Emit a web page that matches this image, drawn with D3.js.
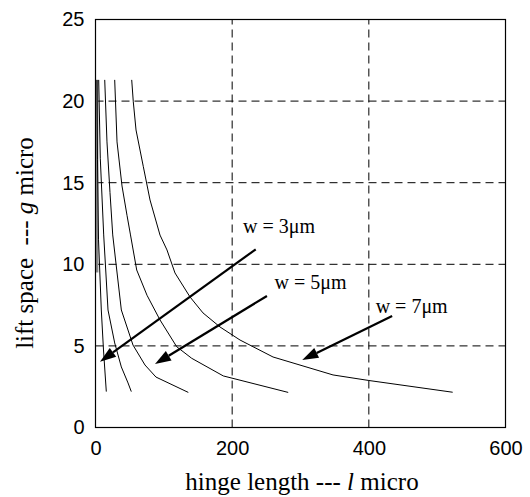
<!DOCTYPE html>
<html>
<head>
<meta charset="utf-8">
<script src="https://cdn.jsdelivr.net/npm/d3@7"></script>
<style>
html,body{margin:0;padding:0;background:#fff;}
svg{display:block;}
</style>
</head>
<body>
<svg id="chart" width="530" height="497"></svg>
<script>
// ---- data ----
const xTicks = [0, 200, 400, 600];
const yTicks = [0, 5, 10, 15, 20, 25];
const xGrid = [200, 400];
const yGrid = [5, 10, 15, 20];

const curve0 = [[2.0,21.3],[2.0,9.5]];
const curveA = [[2.2,21.3],[2.9,16.4],[4.4,11.5],[8.5,7.2],[11.7,4.75],[15.8,2.2]];
const curveB = [[4.7,21.3],[7.0,16.5],[12.0,11.8],[18.3,7.2],[28.1,5.18],[37.8,3.71],[47.6,2.73],[52.4,2.2]];
const curveC = [[13.5,21.3],[16.8,17.5],[21.2,14.4],[25.2,11.8],[37.8,7.2],[54.9,5.05],[72.4,3.83],[88.5,3.09],[135.8,2.15]];
const curveD = [[28.1,21.3],[31.5,17.5],[38.8,14.8],[46.1,13.0],[51.2,11.8],[60.3,9.65],[75.4,8.1],[94.4,6.59],[118.8,4.95],[140.8,4.24],[187,3.16],[282,2.15]];
const curveE = [[53.0,21.3],[55.3,19.96],[59.3,18.23],[70.0,15.98],[79.8,13.94],[94.4,11.79],[104.6,10.88],[116.3,9.47],[138.3,8.0],[157.3,7.02],[182.2,6.16],[211.5,5.36],[259.8,4.32],[347.6,3.22],[400,2.88],[522.7,2.16]];
const curves = [curveA, curveB, curveC, curveD, curveE];

const labels = ["w = 3\u03bcm", "w = 5\u03bcm", "w = 7\u03bcm"];
const labelPos = [[216, 11.9], [262, 8.5], [410, 7.0]];
const arrowTail = [[234.5, 10.92], [250.9, 8.06], [434.1, 6.83]];
const arrowTip = [[6.6, 4.03], [87.1, 3.89], [302.6, 4.14]];

// ---- layout ----
const svg = d3.select("#chart");
const x = d3.scaleLinear().domain([0, 600]).range([95.5, 505.5]);
const y = d3.scaleLinear().domain([0, 25]).range([427.5, 19.5]);

// grid
svg.append("g").selectAll("line").data(xGrid).join("line")
  .attr("x1", d => x(d)).attr("x2", d => x(d))
  .attr("y1", y(0)).attr("y2", y(25))
  .attr("stroke", "#000").attr("stroke-width", 1).attr("stroke-dasharray", "8,5");
svg.append("g").selectAll("line").data(yGrid).join("line")
  .attr("y1", d => y(d)).attr("y2", d => y(d))
  .attr("x1", x(0)).attr("x2", x(600))
  .attr("stroke", "#000").attr("stroke-width", 1).attr("stroke-dasharray", "8,5");

// grey trace along the left edge
const line = d3.line().x(d => x(d[0])).y(d => y(d[1]));
svg.append("path").attr("d", line(curve0)).attr("fill", "none")
  .attr("stroke", "#8a8a8a").attr("stroke-width", 3);

// frame
svg.append("rect").attr("x", x(0)).attr("y", y(25))
  .attr("width", x(600) - x(0)).attr("height", y(0) - y(25))
  .attr("fill", "none").attr("stroke", "#000").attr("stroke-width", 1.2);

// axes (labels only)
const xAxis = svg.append("g").attr("transform", `translate(0,${y(0)})`)
  .call(d3.axisBottom(x).tickValues(xTicks).tickSize(0).tickPadding(13));
const yAxis = svg.append("g").attr("transform", `translate(${x(0)},0)`)
  .call(d3.axisLeft(y).tickValues(yTicks).tickSize(0).tickPadding(11));
[xAxis, yAxis].forEach(g => {
  g.select(".domain").remove();
  g.selectAll("text").attr("font-family", "'Liberation Sans', Arial, sans-serif")
    .attr("font-size", 20).attr("fill", "#000");
});

// curves
svg.append("g").selectAll("path").data(curves).join("path")
  .attr("d", line).attr("fill", "none").attr("stroke", "#000").attr("stroke-width", 1);

// arrows
arrowTail.forEach((t, i) => {
  const x1 = x(t[0]), y1 = y(t[1]);
  const x2 = x(arrowTip[i][0]), y2 = y(arrowTip[i][1]);
  const ang = Math.atan2(y2 - y1, x2 - x1);
  const L = 16, W = 5.5;
  const bx = x2 - L * Math.cos(ang), by = y2 - L * Math.sin(ang);
  svg.append("line").attr("x1", x1).attr("y1", y1).attr("x2", bx).attr("y2", by)
    .attr("stroke", "#000").attr("stroke-width", 2.2);
  const px = -Math.sin(ang), py = Math.cos(ang);
  svg.append("path")
    .attr("d", `M${x2},${y2}L${bx + W * px},${by + W * py}L${bx - W * px},${by - W * py}Z`)
    .attr("fill", "#000");
});

// labels
svg.append("g").selectAll("text").data(labels).join("text")
  .attr("x", (d, i) => x(labelPos[i][0])).attr("y", (d, i) => y(labelPos[i][1]))
  .attr("font-family", "'Liberation Serif', 'Times New Roman', serif")
  .attr("font-size", 20).text(d => d);

// axis titles
const xt = svg.append("text").attr("x", 302).attr("y", 490)
  .attr("text-anchor", "middle")
  .attr("font-family", "'Liberation Serif', 'Times New Roman', serif")
  .attr("font-size", 25);
xt.append("tspan").text("hinge length --- ");
xt.append("tspan").attr("font-style", "italic").text("l");
xt.append("tspan").text(" micro");

const yt = svg.append("text").attr("transform", "translate(33,243) rotate(-90)")
  .attr("text-anchor", "middle")
  .attr("font-family", "'Liberation Serif', 'Times New Roman', serif")
  .attr("font-size", 25);
yt.append("tspan").text("lift space  --- ").attr("xml:space", "preserve");
yt.append("tspan").attr("font-style", "italic").text("g");
yt.append("tspan").text(" micro");
</script>
</body>
</html>
